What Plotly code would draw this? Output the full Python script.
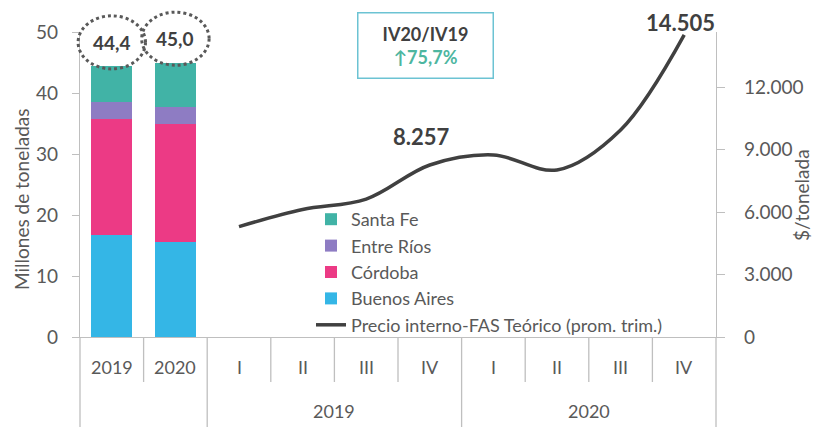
import plotly.graph_objects as go

# ---- data ----
bar_years = ["2019", "2020"]
buenos_aires = [16.8, 15.5]
cordoba = [18.9, 19.4]
entre_rios = [2.9, 2.75]
santa_fe = [5.8, 7.35]
totals = [44.4, 45.0]

quarters = ["I", "II", "III", "IV", "I", "II", "III", "IV"]
quarter_years = ["2019", "2019", "2019", "2019", "2020", "2020", "2020", "2020"]
precio = [5300, 6120, 6620, 8257, 8740, 8020, 9940, 14505]
labelled_points = {3: "8.257", 7: "14.505"}

left_ticks = [0, 10, 20, 30, 40, 50]
right_ticks = [0, 3000, 6000, 9000, 12000]

# ---- styling ----
FONT = "Lato"
GREY = "#595959"
DARK = "#404040"
AXIS = "#bfbfbf"
C_BA = "#34b6e6"
C_CBA = "#ec3a85"
C_ER = "#8e7cc3"
C_SF = "#41b3a6"

# page has an 8px body margin -> figure is drawn 8px right/down
OFF = 8
PL, PR, PT, PB = 80, 716, 32, 337  # plot area in window pixels


def pxx(p):
    return (p - PL) / (PR - PL)


def pxy(p):
    return (PB - p) / (PB - PT)


n_cat = len(bar_years) + len(quarters)
bar_x = list(range(len(bar_years)))
q_x = [len(bar_years) + i for i in range(len(quarters))]
xr = [-0.5, n_cat - 0.5]


def xp(v):
    return (v - xr[0]) / (xr[1] - xr[0])


fig = go.Figure()
for name, vals, col, rank in [
    ("Buenos Aires", buenos_aires, C_BA, 4),
    ("Córdoba", cordoba, C_CBA, 3),
    ("Entre Ríos", entre_rios, C_ER, 2),
    ("Santa Fe", santa_fe, C_SF, 1),
]:
    fig.add_trace(go.Bar(x=bar_x, y=vals, name=name, marker_color=col,
                         marker_line_width=0, width=0.645, legendrank=rank))

fig.add_trace(go.Scatter(x=q_x, y=precio, yaxis="y2", mode="lines",
                         line=dict(color=DARK, width=3.5, shape="spline", smoothing=1.0),
                         name="Precio interno-FAS Teórico (prom. trim.)", legendrank=5))

annotations = []
shapes = []

# totals with dotted ellipses
for i, t in zip(bar_x, totals):
    annotations.append(dict(x=i, y=t, xref="x", yref="y", text=f"<b>{t:.1f}</b>".replace(".", ","),
                            showarrow=False, yshift=24, font=dict(family=FONT, size=19, color=DARK)))
    yc = (t + 3.9) / 50
    shapes.append(dict(type="circle", xref="paper", yref="paper",
                       x0=xp(i - 0.53), x1=xp(i + 0.53), y0=yc - 0.087, y1=yc + 0.087,
                       line=dict(color=GREY, width=3, dash="dot")))

# line value labels
for k, txt in labelled_points.items():
    annotations.append(dict(x=q_x[k], y=precio[k], xref="x", yref="y2", text=f"<b>{txt}</b>",
                            showarrow=False, yanchor="middle", xanchor="center",
                            xshift=-8 if k == 3 else -4, yshift=28 if k == 3 else 12,
                            font=dict(family=FONT, size=22, color=DARK)))

# category labels
for i, lab in zip(bar_x + q_x, bar_years + quarters):
    annotations.append(dict(x=i, y=pxy(367), xref="x", yref="paper", text=lab, showarrow=False,
                            yanchor="middle", font=dict(family=FONT, size=18, color=GREY)))
# year group labels
groups = {}
for i, y in zip(q_x, quarter_years):
    groups.setdefault(y, []).append(i)
for y, idx in groups.items():
    annotations.append(dict(x=(idx[0] + idx[-1]) / 2, y=pxy(411), xref="x", yref="paper", text=y,
                            showarrow=False, yanchor="middle",
                            font=dict(family=FONT, size=18, color=GREY)))

# separators
long_b = [-0.5, len(bar_years) - 0.5] + [idx[-1] + 0.5 for idx in groups.values()]
for b in [c + 0.5 for c in range(n_cat - 1)]:
    if b in long_b:
        continue
    shapes.append(dict(type="line", xref="paper", yref="paper", x0=xp(b), x1=xp(b),
                       y0=0, y1=pxy(382), line=dict(color=AXIS, width=1.3)))
for b in long_b:
    shapes.append(dict(type="line", xref="paper", yref="paper", x0=xp(b), x1=xp(b),
                       y0=0, y1=pxy(430), line=dict(color=AXIS, width=1.3)))

# comparison box
annotations.append(dict(x=pxx(425), y=pxy(45), xref="paper", yref="paper",
                        xanchor="center", yanchor="middle",
                        text="<b>IV20/IV19</b><br><b><span style='color:#4db6a0'>↑75,7%</span></b>",
                        showarrow=False, align="center", width=134, height=64,
                        bordercolor="#6cc3d3", borderwidth=1.5, borderpad=0,
                        font=dict(family=FONT, size=18, color=DARK)))

# axis titles
annotations.append(dict(x=pxx(21), y=pxy(200), xref="paper", yref="paper", text="Millones de toneladas",
                        xanchor="center", yanchor="middle",
                        textangle=-90, showarrow=False, font=dict(family=FONT, size=19, color=GREY)))
annotations.append(dict(x=pxx(801), y=pxy(195), xref="paper", yref="paper",
                        xanchor="center", yanchor="middle",
                        text="$/tonelada", textangle=-90, showarrow=False,
                        font=dict(family=FONT, size=19, color=GREY)))

fig.update_layout(
    width=821 - OFF, height=427 - OFF,
    margin=dict(l=PL - OFF, r=821 - PR, t=PT - OFF, b=427 - PB),
    paper_bgcolor="white", plot_bgcolor="white",
    barmode="stack",
    separators=",.",
    font=dict(family=FONT, color=GREY),
    xaxis=dict(range=xr, showticklabels=False, ticks="", showgrid=False, zeroline=False,
               showline=True, linecolor=AXIS, linewidth=1.3),
    yaxis=dict(range=[0, 50], tickvals=left_ticks, showgrid=False, zeroline=False,
               showline=True, linecolor=AXIS, linewidth=1.3, ticks="outside", ticklen=7,
               tickcolor=AXIS, ticklabelstandoff=10, tickfont=dict(family=FONT, size=19, color=GREY)),
    yaxis2=dict(range=[0, 14640], overlaying="y", side="right", tickvals=right_ticks,
                tickformat=",d", showgrid=False, zeroline=False, showline=True, linecolor=AXIS,
                linewidth=1.3, ticks="outside", ticklen=8, tickcolor=AXIS, ticklabelstandoff=15,
                tickfont=dict(family=FONT, size=19, color=GREY)),
    legend=dict(x=pxx(311), y=pxy(201), xanchor="left", yanchor="top",
                traceorder="normal", bgcolor="rgba(0,0,0,0)",
                font=dict(family=FONT, size=18, color=GREY)),
    annotations=annotations,
    shapes=shapes,
)

fig.write_html("out.html")
